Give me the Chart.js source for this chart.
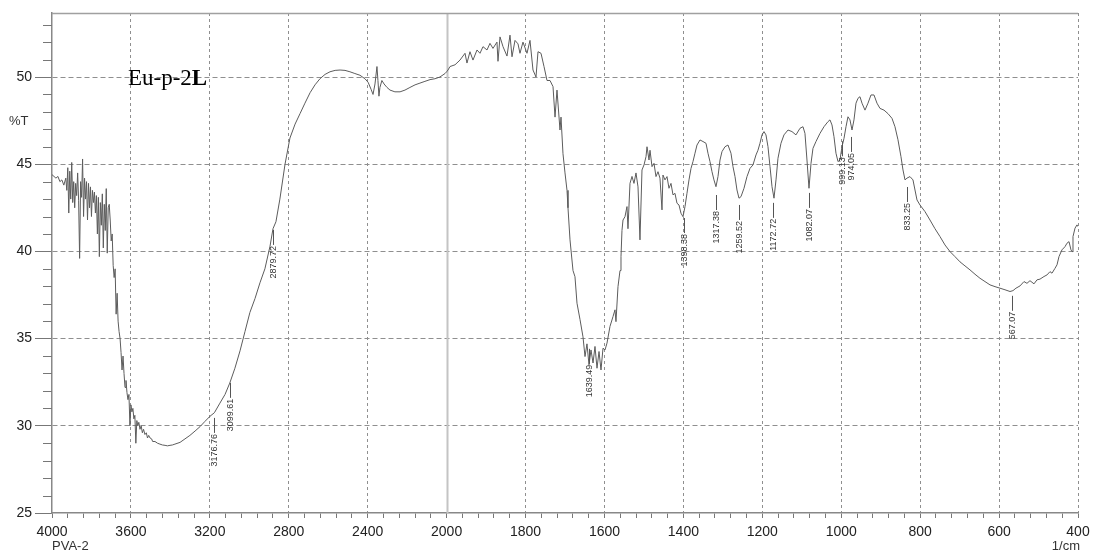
<!DOCTYPE html>
<html>
<head>
<meta charset="utf-8">
<title>Eu-p-2L FTIR</title>
<script src="https://cdn.jsdelivr.net/npm/chart.js@4/dist/chart.umd.min.js"></script>
<style>
  html, body { margin: 0; padding: 0; background: #fff; }
</style>
</head>
<body>
<canvas id="irChart" width="1093" height="554"></canvas>
<script>
// IR spectrum: wavenumber (1/cm) and %T
const waveNumbers = [
  4000, 3990, 3980, 3970, 3960, 3950, 3940, 3930, 3925, 3920, 3915, 3910, 3905, 3900, 3895, 3890,
  3885, 3880, 3875, 3870, 3865, 3860, 3855, 3850, 3845, 3840, 3835, 3830, 3825, 3820, 3815, 3810,
  3805, 3800, 3795, 3790, 3785, 3780, 3775, 3770, 3765, 3760, 3755, 3750, 3745, 3740, 3735, 3730,
  3725, 3720, 3715, 3710, 3705, 3700, 3695, 3690, 3685, 3680, 3675, 3670, 3665, 3660, 3655, 3650,
  3645, 3640, 3635, 3630, 3625, 3620, 3615, 3610, 3605, 3600, 3595, 3590, 3585, 3580, 3575, 3570,
  3565, 3560, 3554, 3548, 3542, 3536, 3529, 3522, 3516, 3510, 3503, 3495, 3490, 3478, 3465, 3453,
  3440, 3427, 3415, 3402, 3390, 3377, 3351, 3326, 3301, 3275, 3250, 3225, 3199, 3177, 3149, 3123,
  3099, 3073, 3047, 3022, 2997, 2971, 2946, 2921, 2895, 2880, 2865, 2845, 2819, 2794, 2768, 2743,
  2718, 2692, 2667, 2642, 2616, 2591, 2565, 2540, 2515, 2490, 2465, 2439, 2414, 2398, 2383, 2373,
  2363, 2353, 2348, 2343, 2338, 2328, 2317, 2302, 2287, 2262, 2236, 2211, 2186, 2160, 2135, 2110,
  2084, 2059, 2034, 2008, 2000, 1996.5, 1991.4, 1978.7, 1966.1, 1953.4, 1948.4, 1940.8, 1933.2, 1923.0, 1915.4, 1907.8,
  1897.7, 1890.1, 1882.5, 1872.4, 1869.8, 1864.7, 1857.1, 1847.0, 1839.4, 1834.3, 1826.7, 1819.1, 1814.1, 1806.5, 1796.3, 1788.7,
  1781.1, 1773.5, 1768.4, 1760.8, 1753.2, 1745.6, 1738.0, 1730.4, 1725.3, 1720.3, 1712.7, 1710.1, 1705.1, 1700.0, 1694.9, 1692.4,
  1687.3, 1679.7, 1674.7, 1669.6, 1662.0, 1654.4, 1649.3, 1644.3, 1639.2, 1634.1, 1629.0, 1624.0, 1618.9, 1613.8, 1608.8, 1603.7,
  1598.6, 1593.6, 1586.0, 1578.4, 1573.3, 1570.8, 1565.7, 1560.6, 1558.1, 1555.6, 1553.0, 1548.0, 1542.9, 1540.4, 1535.3, 1530.2,
  1525.2, 1520.1, 1515.0, 1510.0, 1504.9, 1499.8, 1494.7, 1492.2, 1487.1, 1484.6, 1479.5, 1474.5, 1469.4, 1464.3, 1459.3, 1454.2,
  1451.7, 1446.6, 1441.5, 1436.5, 1431.4, 1426.3, 1421.3, 1416.2, 1411.1, 1406.1, 1401.0, 1395.9, 1390.9, 1385.8, 1380.7, 1375.7,
  1370.6, 1365.5, 1357.9, 1350.3, 1342.7, 1337.7, 1332.6, 1327.5, 1322.5, 1317.4, 1312.3, 1307.2, 1302.2, 1294.6, 1287.0, 1279.4,
  1274.3, 1269.2, 1264.2, 1259.1, 1254.0, 1246.4, 1238.8, 1231.2, 1223.6, 1216.0, 1211.0, 1205.9, 1200.8, 1195.7, 1190.7, 1185.6,
  1180.5, 1175.4, 1170.4, 1165.3, 1160.3, 1152.7, 1145.1, 1134.9, 1124.8, 1114.7, 1104.5, 1096.9, 1091.9, 1086.8, 1081.7, 1076.6,
  1071.6, 1064.0, 1053.8, 1043.7, 1033.6, 1028.5, 1023.4, 1018.4, 1013.3, 1008.2, 1003.2, 998.1, 993.0, 987.9, 982.9, 977.8,
  972.7, 967.7, 962.6, 957.5, 952.5, 947.4, 939.8, 932.2, 924.6, 917.0, 909.4, 901.8, 891.6, 881.5, 871.4, 863.8,
  856.2, 848.6, 843.5, 838.4, 833.4, 825.8, 818.2, 813.1, 808.0, 800.4, 787.7, 775.1, 762.4, 749.7, 737.1, 724.4,
  711.7, 699.0, 686.4, 673.7, 661.0, 648.4, 635.7, 623.0, 610.3, 597.7, 585.0, 572.3, 564.8, 557.2, 547.0, 536.9,
  529.3, 521.7, 511.5, 503.9, 496.3, 486.2, 478.6, 471.0, 465.9, 458.3, 453.2, 448.2, 440.6, 433.0, 427.9, 422.8,
  417.8, 415.2, 412.7, 407.6, 402.6, 400
];
const transmittance = [
  44.4, 44.3, 44.2, 44.3, 44.0, 44.1, 43.8, 44.2, 43.5, 44.8, 42.2, 44.6, 43.0, 45.1, 42.8, 44.0,
  42.5, 43.9, 43.2, 44.5, 42.9, 39.6, 44.0, 43.1, 45.3, 42.0, 44.2, 43.0, 44.0, 41.8, 43.9, 42.5,
  43.7, 42.0, 43.5, 42.8, 43.4, 42.2, 43.2, 41.0, 43.1, 39.7, 42.8, 41.5, 43.3, 40.2, 42.7, 41.2,
  43.6, 39.9, 42.5, 42.7, 41.8, 40.6, 41.0, 39.2, 38.5, 39.0, 36.4, 37.6, 36.0, 35.4, 35.0, 34.2,
  33.2, 34.0, 33.0, 32.2, 32.6, 31.9, 31.5, 31.8, 30.0, 31.2, 30.8, 31.0, 30.4, 30.6, 29.0, 30.3,
  30.0, 30.2, 29.8, 30.0, 29.6, 29.8, 29.5, 29.6, 29.3, 29.45, 29.3, 29.25, 29.1, 29.1, 29.0, 28.95,
  28.9, 28.88, 28.85, 28.88, 28.9, 28.95, 29.05, 29.25, 29.45, 29.7, 29.95, 30.25, 30.55, 30.75, 31.3, 31.8,
  32.45, 33.3, 34.3, 35.4, 36.5, 37.3, 38.2, 39.0, 40.3, 41.3, 41.7, 43.0, 45.0, 46.5, 47.3, 47.9,
  48.5, 49.1, 49.55, 49.9, 50.15, 50.3, 50.38, 50.4, 50.38, 50.3, 50.2, 50.1, 49.9, 49.7, 49.3, 49.0,
  49.6, 50.6, 49.8, 48.9, 49.4, 49.8, 49.6, 49.4, 49.25, 49.15, 49.15, 49.25, 49.4, 49.55, 49.65, 49.75,
  49.85, 49.9, 50.0, 50.2, 50.3, 50.4, 50.6, 50.7, 50.97, 51.36, 50.8, 51.45, 50.97, 51.55, 51.36, 51.74,
  51.55, 51.93, 51.64, 52.0, 50.9, 52.3, 51.74, 51.2, 52.4, 51.16, 52.1, 51.9, 51.36, 52.0, 51.36, 52.1,
  50.4, 50.0, 51.45, 51.36, 50.6, 49.8, 49.8, 49.45, 47.7, 49.25, 46.96, 47.7, 45.6, 44.5, 43.5, 42.5,
  40.66, 38.9, 38.55, 37.03, 36.1, 35.1, 33.97, 34.7, 33.5, 34.35, 33.6, 34.55, 33.3, 34.26, 33.2, 34.45,
  34.35, 34.74, 35.7, 36.26, 36.65, 35.97, 37.98, 38.9, 39.7, 41.2, 41.8, 41.99, 42.57, 41.3, 43.9, 44.3,
  43.9, 44.5, 43.7, 40.66, 44.67, 44.96, 45.43, 46.0, 45.24, 45.8, 44.86, 45.05, 44.29, 44.57, 44.2, 42.38,
  44.38, 44.1, 44.29, 43.62, 43.9, 43.24, 43.33, 42.76, 42.66, 42.19, 41.99, 42.57, 43.33, 44.1, 44.76, 45.15,
  45.63, 46.1, 46.39, 46.3, 46.2, 45.63, 45.15, 44.57, 44.1, 43.71, 44.29, 45.24, 45.72, 46.0, 46.1, 45.63,
  44.86, 44.29, 43.52, 43.05, 43.14, 43.62, 44.29, 44.76, 44.96, 45.53, 45.8, 46.2, 46.68, 46.87, 46.68, 46.0,
  44.86, 43.71, 43.05, 44.1, 45.34, 46.2, 46.68, 46.96, 46.87, 46.68, 47.06, 47.15, 46.77, 45.24, 43.62, 45.05,
  45.91, 46.3, 46.77, 47.15, 47.44, 47.54, 47.25, 46.58, 45.63, 45.15, 45.24, 46.0, 46.48, 47.15, 47.72, 47.54,
  46.96, 47.54, 48.5, 48.78, 48.87, 48.5, 48.1, 48.5, 48.97, 48.97, 48.5, 48.2, 48.1, 47.9, 47.63, 47.15,
  46.4, 45.43, 44.67, 44.1, 44.2, 44.29, 44.1, 43.52, 42.95, 42.66, 42.28, 41.8, 41.3, 40.85, 40.37, 39.99,
  39.7, 39.4, 39.17, 38.94, 38.69, 38.46, 38.27, 38.08, 37.98, 37.89, 37.8, 37.7, 37.75, 37.89, 38.02, 38.27,
  38.17, 38.32, 38.14, 38.37, 38.41, 38.56, 38.65, 38.84, 38.75, 39.03, 39.23, 39.7, 40.09, 40.27, 40.47, 40.56,
  40.09, 39.99, 40.85, 41.33, 41.52, 41.42
];

// labelled peaks: wavenumber and %T at the tip of each marker
const peakWaves = [3176.76, 3099.61, 2879.72, 1639.49, 1398.38, 1317.38, 1259.52, 1172.72, 1082.07, 999.13, 974.05, 833.25, 567.07];
const peakT = [30.74, 32.75, 41.52, 34.7, 42.2, 43.52, 42.95, 43.07, 43.64, 46.6, 46.85, 43.98, 37.74];

// axis ticks
const xMajorTicks = [4000, 3600, 3200, 2800, 2400, 2000, 1800, 1600, 1400, 1200, 1000, 800, 600, 400];
const yMajorTicks = [25, 30, 35, 40, 45, 50];

const FONT = '"Liberation Sans", Arial, sans-serif';

// wavenumber axis: 4000-2000 at half the scale of 2000-400
class IRWaveScale extends Chart.LinearScale {
  toUnits(v) {
    return v >= 2000 ? (4000 - v) / 2 : 1000 + (2000 - v);
  }
  getPixelForValue(value) {
    return this.left + this.width * this.toUnits(value) / 2600;
  }
  getValueForPixel(pixel) {
    const u = (pixel - this.left) / this.width * 2600;
    return u <= 1000 ? 4000 - 2 * u : 3000 - u;
  }
  buildTicks() {
    const ticks = [];
    for (let i = 0; i < xMajorTicks.length - 1; i++) {
      const a = xMajorTicks[i], b = xMajorTicks[i + 1];
      for (let k = 0; k < 5; k++) ticks.push({value: a + (b - a) * k / 5, major: k === 0});
    }
    ticks.push({value: xMajorTicks[xMajorTicks.length - 1], major: true});
    return ticks;
  }
}
IRWaveScale.id = 'irwave';
IRWaveScale.defaults = Chart.LinearScale.defaults;
Chart.register(IRWaveScale);

const isMajor = (ctx) => ctx.tick && ctx.tick.major;

const extras = {
  id: 'extras',
  beforeDatasetsDraw(chart) {
    const {ctx, chartArea, scales: {x}} = chart;
    // solid line at the scale change
    const p = Math.round(x.getPixelForValue(2000)) + 0.5;
    ctx.save();
    ctx.strokeStyle = '#c4c4c4';
    ctx.lineWidth = 2;
    ctx.beginPath();
    ctx.moveTo(p, chartArea.top);
    ctx.lineTo(p, chartArea.bottom);
    ctx.stroke();
    ctx.restore();
  },
  afterDraw(chart) {
    const {ctx, chartArea, scales: {x, y}} = chart;
    ctx.save();
    // top frame line
    ctx.strokeStyle = '#a0a0a0';
    ctx.lineWidth = 1.5;
    ctx.beginPath();
    ctx.moveTo(chartArea.left, chartArea.top + 0.5);
    ctx.lineTo(chartArea.right, chartArea.top + 0.5);
    ctx.stroke();

    // minor ticks on %T axis
    ctx.strokeStyle = '#777';
    ctx.lineWidth = 1;
    for (let v = 26; v <= 53; v++) {
      if (v % 5 === 0) continue;
      const py = Math.round(y.getPixelForValue(v)) + 0.5;
      ctx.beginPath();
      ctx.moveTo(chartArea.left - 9, py);
      ctx.lineTo(chartArea.left, py);
      ctx.stroke();
    }

    // peak markers
    ctx.strokeStyle = '#555';
    ctx.fillStyle = '#333';
    ctx.font = '9px ' + FONT;
    peakWaves.forEach((w, i) => {
      const px = Math.round(x.getPixelForValue(w)) + 0.5;
      const py = y.getPixelForValue(peakT[i]) + 5;
      ctx.beginPath();
      ctx.moveTo(px, py);
      ctx.lineTo(px, py + 15);
      ctx.stroke();
      ctx.save();
      ctx.translate(px, py + 16);
      ctx.rotate(-Math.PI / 2);
      ctx.textAlign = 'right';
      ctx.textBaseline = 'middle';
      ctx.fillText(w.toFixed(2), 0, 0);
      ctx.restore();
    });

    // axis captions
    ctx.fillStyle = '#333';
    ctx.font = '13px ' + FONT;
    ctx.textBaseline = 'alphabetic';
    ctx.textAlign = 'left';
    ctx.fillText('%T', 9, 125);
    ctx.fillText('PVA-2', 52, 550);
    ctx.textAlign = 'right';
    ctx.fillText('1/cm', 1080, 550);

    // sample name
    ctx.fillStyle = '#000';
    ctx.textAlign = 'left';
    ctx.font = '23px "Liberation Serif", "Times New Roman", serif';
    const name = 'Eu-p-2';
    ctx.fillText(name, 128, 85);
    const w = ctx.measureText(name).width;
    ctx.font = 'bold 23px "Liberation Serif", "Times New Roman", serif';
    ctx.fillText('L', 128 + w, 85);
    ctx.restore();
  }
};

new Chart(document.getElementById('irChart'), {
  type: 'line',
  data: {
    datasets: [{
      label: 'Eu-p-2L',
      data: waveNumbers.map((w, i) => ({x: w, y: transmittance[i]})),
      borderColor: '#5c5c5c',
      borderWidth: 1,
      pointRadius: 0,
      tension: 0,
      fill: false
    }]
  },
  options: {
    responsive: false,
    animation: false,
    layout: { padding: { top: 13, right: 15, left: 0, bottom: 0 } },
    plugins: {
      legend: { display: false },
      tooltip: { enabled: false }
    },
    scales: {
      x: {
        type: 'irwave',
        min: 400,
        max: 4000,
        afterFit: (s) => { s.height = 41; s.paddingLeft = 0; s.paddingRight = 0; },
        grid: {
          color: (c) => (isMajor(c) && c.tick.value !== 4000 && c.tick.value !== 2000) ? '#8f8f8f' : 'rgba(0,0,0,0)',
          tickColor: '#777',
          tickLength: 5,
          lineWidth: 1
        },
        border: { color: '#888', width: 1.5, dash: [3, 3] },
        ticks: {
          autoSkip: false,
          maxRotation: 0,
          padding: 6,
          color: '#222',
          font: { family: FONT, size: 14 },
          callback: (v) => xMajorTicks.includes(v) ? String(v) : ''
        }
      },
      y: {
        min: 25,
        max: 53.67,
        afterFit: (s) => { s.width = 52; s.paddingTop = 0; s.paddingBottom = 0; },
        afterBuildTicks: (s) => {
          s.ticks = yMajorTicks.map(v => ({value: v, major: true}));
        },
        grid: {
          color: (c) => (c.tick && c.tick.value !== 25) ? '#8f8f8f' : 'rgba(0,0,0,0)',
          tickColor: '#777',
          tickLength: 17,
          lineWidth: 1
        },
        border: { color: '#888', width: 1.5, dash: [5, 3] },
        ticks: {
          padding: 3,
          color: '#222',
          font: { family: FONT, size: 14 },
          callback: (v) => String(v)
        }
      }
    }
  },
  plugins: [extras]
});
</script>
</body>
</html>
